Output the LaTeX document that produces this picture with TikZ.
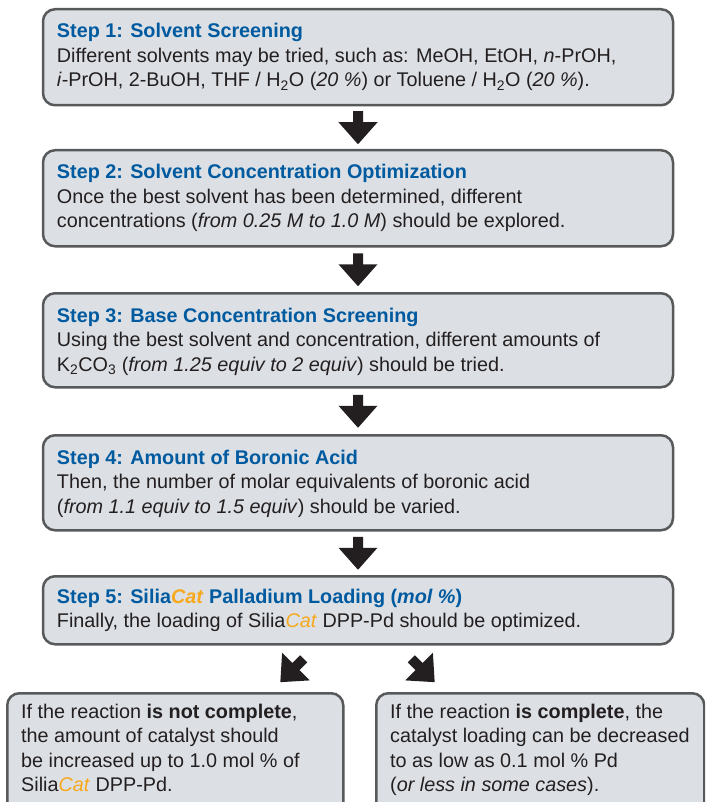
\documentclass[tikz,border=0pt]{standalone}
\usepackage{fontspec}
\setmainfont{Liberation Sans}
\usetikzlibrary{calc}
\definecolor{boxfill}{RGB}{220,224,228}
\definecolor{boxline}{RGB}{88,89,91}
\definecolor{titleblue}{RGB}{0,90,160}
\definecolor{catorange}{RGB}{247,168,28}
\definecolor{ink}{RGB}{35,31,32}
\newcommand{\sCat}{\textcolor{catorange}{\textit{Cat}}}
\newcommand{\ttlfmt}[1]{{\bfseries\color{titleblue}#1}}
\begin{document}
\begin{tikzpicture}[x=1pt,y=-1pt,
  stepbox/.style={draw=boxline, line width=2.5pt, fill=boxfill, rounded corners=12pt,
    minimum width=630pt, inner sep=0pt, anchor=north},
  txt/.style={text=ink, align=left, inner sep=0pt, anchor=base west,
    font=\fontsize{19.8}{24.5}\selectfont},
  pics/dnarrow/.style={code={
    \fill[ink] (-5,-16.5) -- (5,-16.5) -- (5,-5.5) -- (19.5,-5.5) -- (0,16.5)
      -- (-19.5,-5.5) -- (-5,-5.5) -- cycle;}}
]
\clip (0,0) rectangle (705,802);
\fill[white] (0,0) rectangle (705,802);

% base anchor = baseline of the last line
\node[stepbox, minimum height=96pt] (s1) at (358,8) {};
\node[txt] (t1) at ($(s1.north west)+(15,79)$)
  {\ttlfmt{Step 1: Solvent Screening}\\
   Different solvents may be tried, such as: MeOH, EtOH, \textit{n}-PrOH,\\
   \textit{i}-PrOH, 2-BuOH, THF / H\textsubscript{2}O (\textit{20 \%}) or Toluene / H\textsubscript{2}O (\textit{20 \%}).};

\node[stepbox, minimum height=96pt] (s2) at (358,149) {};
\node[txt] (t2) at ($(s2.north west)+(15,79)$)
  {\ttlfmt{Step 2: Solvent Concentration Optimization}\\
   Once the best solvent has been determined, different\\
   concentrations (\textit{from 0.25 M to 1.0 M}) should be explored.};

\node[stepbox, minimum height=94pt] (s3) at (358,292) {};
\node[txt] (t3) at ($(s3.north west)+(15,79)$)
  {\ttlfmt{Step 3: Base Concentration Screening}\\
   Using the best solvent and concentration, different amounts of\\
   K\textsubscript{2}CO\textsubscript{3} (\textit{from 1.25 equiv to 2 equiv}) should be tried.};

\node[stepbox, minimum height=95pt] (s4) at (358,434) {};
\node[txt] (t4) at ($(s4.north west)+(15,79)$)
  {\ttlfmt{Step 4: Amount of Boronic Acid}\\
   Then, the number of molar equivalents of boronic acid\\
   (\textit{from 1.1 equiv to 1.5 equiv}) should be varied.};

\node[stepbox, minimum height=68pt] (s5) at (358,575) {};
\node[txt] (t5) at ($(s5.north west)+(15,52.5)$)
  {\ttlfmt{Step 5: Silia\sCat{} Palladium Loading (\textit{mol \%})}\\
   Finally, the loading of Silia\sCat{} DPP-Pd should be optimized.};

\node[stepbox, anchor=north west, minimum width=336pt, minimum height=140pt] (l) at (6,692) {};
\node[txt] (tl) at ($(l.north west)+(15,99.5)$)
  {If the reaction \textbf{is not complete},\\
   the amount of catalyst should\\
   be increased up to 1.0 mol \% of\\
   Silia\sCat{} DPP-Pd.};

\node[stepbox, anchor=north west, minimum width=328pt, minimum height=140pt] (r) at (375,692) {};
\node[txt] (tr) at ($(r.north west)+(15,99.5)$)
  {If the reaction \textbf{is complete}, the\\
   catalyst loading can be decreased\\
   to as low as 0.1 mol \% Pd\\
   (\textit{or less in some cases}).};

\pic at ($(s1.south)!0.5!(s2.north)$) {dnarrow};
\pic at ($(s2.south)!0.5!(s3.north)$) {dnarrow};
\pic at ($(s3.south)!0.5!(s4.north)$) {dnarrow};
\pic at ($(s4.south)!0.5!(s5.north)$) {dnarrow};
\pic[rotate=-45] at ($(s5.south)+(-66,25)$) {dnarrow};
\pic[rotate=45] at ($(s5.south)+(65,25)$) {dnarrow};
\end{tikzpicture}
\end{document}
